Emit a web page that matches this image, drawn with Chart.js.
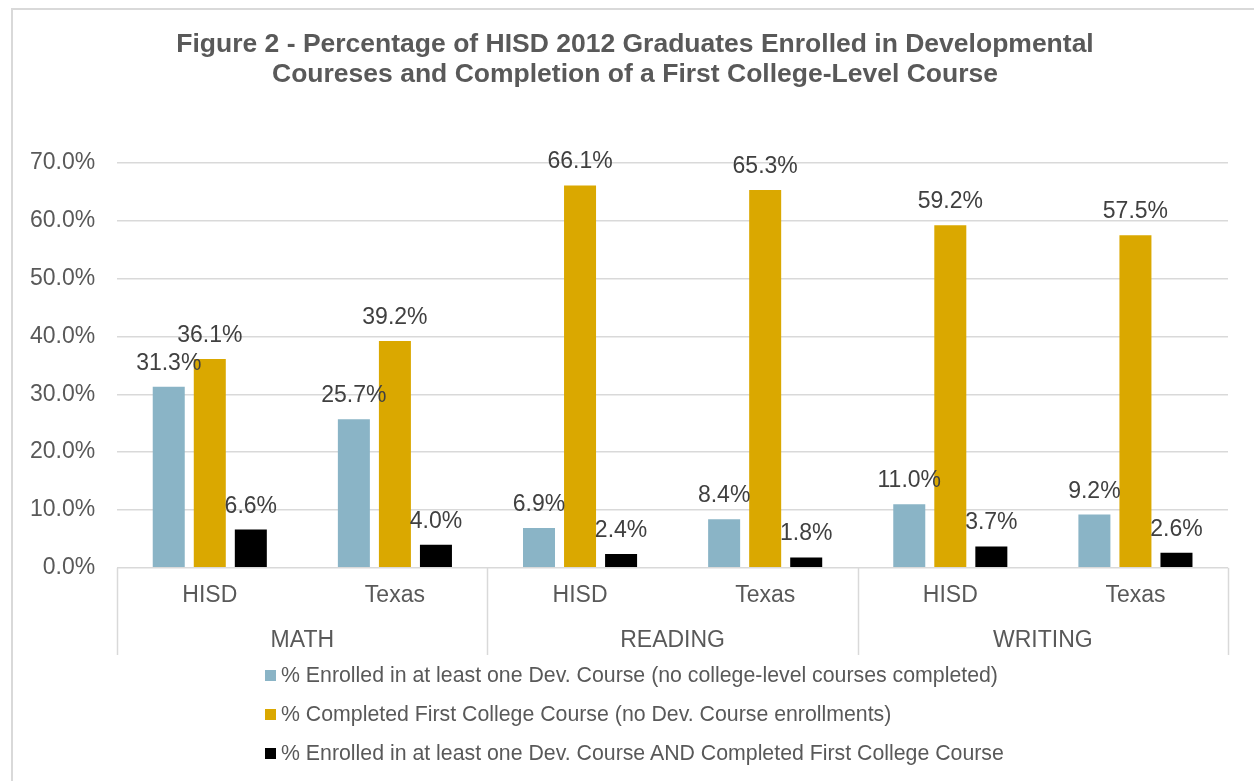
<!DOCTYPE html>
<html>
<head>
<meta charset="utf-8">
<script src="https://cdn.jsdelivr.net/npm/chart.js@4"></script>
<style>
  body { margin: 0; background: #fff; font-family: "Liberation Sans", Arial, sans-serif; }
  #wrap { position: relative; width: 1254px; height: 781px; overflow: hidden; }
  #frame { position: absolute; left: 11px; top: 8px; width: 1400px; height: 900px;
           border-top: 2px solid #d9d9d9; border-left: 2px solid #d9d9d9; }
  #chart { position: absolute; left: 0; top: 0; }
  #legend { position: absolute; left: 265px; top: 656px; color: #595959; font-size: 21.3px; }
  #legend div { height: 39px; display: flex; align-items: center; }
  #legend span.box { display: inline-block; width: 11px; height: 11px; margin-right: 5px; }
</style>
</head>
<body>
<div id="wrap">
  <div id="frame"></div>
  <canvas id="chart" width="1254" height="781"></canvas>
  <div id="legend"></div>
</div>
<script>
const subjects = ['MATH', 'READING', 'WRITING'];
const categories = ['HISD', 'Texas', 'HISD', 'Texas', 'HISD', 'Texas'];
const seriesNames = [
  '% Enrolled in at least one Dev. Course (no college-level courses completed)',
  '% Completed First College Course (no Dev. Course enrollments)',
  '% Enrolled in at least one Dev. Course AND Completed First College Course'
];
const enrolledOnly = [31.3, 25.7, 6.9, 8.4, 11.0, 9.2];
const completedOnly = [36.1, 39.2, 66.1, 65.3, 59.2, 57.5];
const enrolledAndCompleted = [6.6, 4.0, 2.4, 1.8, 3.7, 2.6];
const yTicks = [0, 10, 20, 30, 40, 50, 60, 70];
const colors = ['#8ab4c6', '#daa800', '#000000'];

const FONT = '"Liberation Sans", Arial, sans-serif';
const GRID = '#d9d9d9';

const barLabels = {
  id: 'barLabels',
  afterDatasetsDraw(chart) {
    const ctx = chart.ctx;
    ctx.save();
    ctx.font = '23px ' + FONT;
    ctx.fillStyle = '#404040';
    ctx.textAlign = 'center';
    ctx.textBaseline = 'alphabetic';
    chart.data.datasets.forEach((ds, i) => {
      chart.getDatasetMeta(i).data.forEach((bar, j) => {
        ctx.fillText(ds.data[j].toFixed(1) + '%', bar.x, bar.y - 17);
      });
    });
    ctx.restore();
  }
};

// vertical separators between the subject groups, spanning both label rows
const groupLines = {
  id: 'groupLines',
  afterLayout(chart) {
    // the title sits centred on the outer frame, a bit right of the plot centre
    if (chart.titleBlock) {
      chart.titleBlock.left += 34;
    }
  },
  afterDraw(chart) {
    const x = chart.scales.x;
    const x2 = chart.scales.x2;
    const ctx = chart.ctx;
    ctx.save();
    ctx.strokeStyle = GRID;
    ctx.lineWidth = 1.5;
    [-0.5, 1.5, 3.5, 5.5].forEach((v) => {
      const px = Math.round(x.getPixelForValue(v)) + 0.5;
      ctx.beginPath();
      ctx.moveTo(px, chart.chartArea.bottom);
      ctx.lineTo(px, x2.bottom - 2);
      ctx.stroke();
    });
    ctx.restore();
  }
};

const datasets = [enrolledOnly, completedOnly, enrolledAndCompleted].map((data, i) => ({
  label: seriesNames[i],
  data: data,
  backgroundColor: colors[i],
  categoryPercentage: 0.665,
  barPercentage: 0.78,
  xAxisID: 'x'
}));

const chart = new Chart(document.getElementById('chart'), {
  type: 'bar',
  data: { labels: categories, datasets: datasets },
  options: {
    responsive: false,
    animation: false,
    devicePixelRatio: 1,
    layout: { padding: { top: 0, left: 8, right: 26, bottom: 124 } },
    plugins: {
      legend: { display: false },
      tooltip: { enabled: false },
      title: {
        display: true,
        text: ['Figure 2 - Percentage of HISD 2012 Graduates Enrolled in Developmental',
               'Coureses and Completion of a First College-Level Course'],
        color: '#595959',
        font: { family: FONT, size: 26.5, weight: 'bold', lineHeight: 1.13 },
        padding: { top: 30, bottom: 73 }
      }
    },
    scales: {
      x: {
        position: 'bottom',
        grid: { display: false, drawTicks: false },
        border: { display: false },
        ticks: { color: '#595959', font: { family: FONT, size: 23, lineHeight: 1.2 }, padding: 14, maxRotation: 0 }
      },
      x2: {
        type: 'category',
        position: 'bottom',
        labels: subjects,
        offset: true,
        grid: { display: false, drawTicks: false },
        border: { display: false },
        ticks: { color: '#595959', font: { family: FONT, size: 23, lineHeight: 1.2 }, padding: 3, maxRotation: 0 }
      },
      y: {
        min: 0,
        max: 70,
        afterBuildTicks: (scale) => { scale.ticks = yTicks.map((v) => ({ value: v })); },
        grid: { color: GRID, lineWidth: 1.5, drawTicks: false },
        border: { display: false },
        ticks: {
          color: '#595959',
          font: { family: FONT, size: 23 },
          padding: 22,
          callback: (v) => v.toFixed(1) + '%'
        }
      }
    }
  },
  plugins: [barLabels, groupLines]
});

const legend = document.getElementById('legend');
chart.data.datasets.forEach((ds) => {
  const row = document.createElement('div');
  const box = document.createElement('span');
  box.className = 'box';
  box.style.background = ds.backgroundColor;
  row.appendChild(box);
  row.appendChild(document.createTextNode(ds.label));
  legend.appendChild(row);
});
</script>
</body>
</html>
